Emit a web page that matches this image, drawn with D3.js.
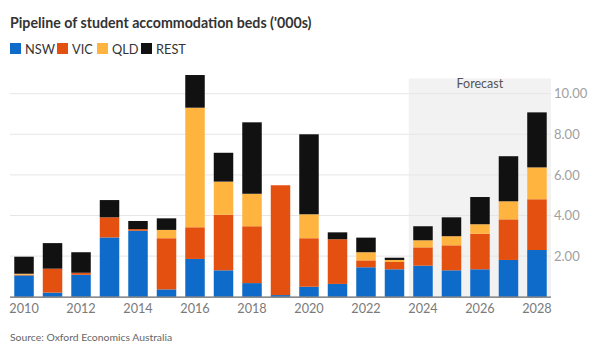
<!DOCTYPE html>
<html><head><meta charset="utf-8">
<script src="https://cdn.jsdelivr.net/npm/d3@7"></script>
<style>body{margin:0;background:#fff}svg{display:block}</style>
</head><body>
<svg id="c" width="601" height="351"></svg>
<script>
const years = ["2010","2011","2012","2013","2014","2015","2016","2017","2018","2019","2020","2021","2022","2023","2024","2025","2026","2027","2028"];
const nsw  = [1.05,0.20,1.08,2.92,3.25,0.36,1.86,1.30,0.67,0.08,0.49,0.63,1.45,1.35,1.53,1.30,1.35,1.81,2.30];
const vic  = [0.03,1.18,0.10,0.99,0.08,2.52,1.56,2.74,2.80,5.41,2.39,2.20,0.34,0.36,0.90,1.23,1.75,2.00,2.50];
const qld  = [0.05,0.00,0.00,0.00,0.00,0.41,5.89,1.63,1.60,0.00,1.18,0.00,0.40,0.10,0.35,0.45,0.47,0.89,1.57];
const rest = [0.84,1.26,1.01,0.85,0.40,0.57,1.61,1.42,3.52,0.00,3.94,0.34,0.72,0.11,0.69,0.93,1.34,2.22,2.71];
const seriesNames = ["NSW","VIC","QLD","REST"];
const colors = ["#0f6bc9","#e4500f","#ffb43f","#111111"];
const yTicks = [2,4,6,8,10];
const forecastStart = "2024";

const svg = d3.select("#c");
const x = d3.scaleBand().domain(years).range([10,551]).paddingInner(0.316).paddingOuter(0.15);
const y = d3.scaleLinear().domain([0,10]).range([296.7,93.7]);

const rows = years.map((yr,i)=>({year:yr,NSW:nsw[i],VIC:vic[i],QLD:qld[i],REST:rest[i]}));
const stacked = d3.stack().keys(seriesNames)(rows);

// forecast shading
const fx = x(forecastStart) - x.step()*x.paddingInner()/2;
svg.append("rect").attr("x",fx).attr("y",y(10.75)).attr("width",551-fx).attr("height",y(0)-y(10.75)).attr("fill","#f2f2f2");
svg.append("text").attr("x",(fx+551)/2).attr("y",88).attr("text-anchor","middle")
  .attr("font-family","Lato, 'Open Sans', sans-serif").attr("font-size",12.5).attr("fill","#555").text("Forecast");

// gridlines
svg.append("g").selectAll("line").data(yTicks).join("line")
  .attr("x1",10).attr("x2",551).attr("y1",d=>y(d)).attr("y2",d=>y(d))
  .attr("stroke","#e6e6e6").attr("stroke-width",1);

// right axis labels
const yAxis = d3.axisRight(y).tickValues(yTicks).tickSize(0).tickPadding(3).tickFormat(d3.format(".2f"));
const ga = svg.append("g").attr("transform","translate(551,0)").call(yAxis);
ga.select(".domain").remove();
ga.selectAll("text").attr("font-family","Lato, 'Open Sans', sans-serif").attr("font-size",13).attr("fill","#a0a0a0");

// bars
svg.append("g").selectAll("g").data(stacked).join("g").attr("fill",(d,i)=>colors[i])
  .selectAll("rect").data(d=>d).join("rect")
  .attr("x",d=>x(d.data.year)).attr("width",x.bandwidth())
  .attr("y",d=>y(d[1])).attr("height",d=>Math.max(0,y(d[0])-y(d[1])));

// x axis
const xAxis = d3.axisBottom(x).tickValues(years.filter((d,i)=>i%2===0)).tickSize(0).tickPadding(7);
const gx = svg.append("g").attr("transform",`translate(0,${y(0)})`).call(xAxis);
gx.select(".domain").attr("stroke","#666").attr("stroke-width",1.2).attr("d","M10,0.5H551");
gx.selectAll("text").attr("font-family","Lato, 'Open Sans', sans-serif").attr("font-size",12.7).attr("fill","#7a7a7a");

// title
svg.append("text").attr("x",10).attr("y",28).attr("font-family","Lato, 'Open Sans', sans-serif")
  .attr("font-weight","bold").attr("font-size",14.2).attr("fill","#333").text("Pipeline of student accommodation beds ('000s)");

// legend
const legX = [10,57,97,141];
const lg = svg.append("g").selectAll("g").data(seriesNames).join("g").attr("transform",(d,i)=>`translate(${legX[i]},43)`);
lg.append("rect").attr("width",11).attr("height",11).attr("fill",(d,i)=>colors[i]);
lg.append("text").attr("x",15).attr("y",10.5).attr("font-family","Lato, 'Open Sans', sans-serif").attr("font-size",12.8).attr("fill","#333").text(d=>d);

// source
svg.append("text").attr("x",10).attr("y",341).attr("font-family","Lato, 'Open Sans', sans-serif")
  .attr("font-size",10.4).attr("fill","#666").text("Source: Oxford Economics Australia");
</script>
</body></html>
